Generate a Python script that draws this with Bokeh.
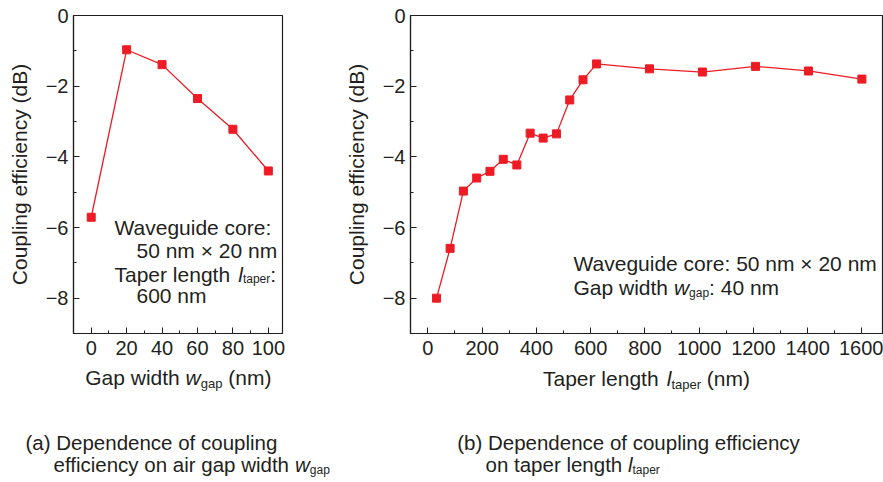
import math
from bokeh.plotting import figure
from bokeh.layouts import row, column
from bokeh.models import Label, FixedTicker, Range1d, CustomJSTickFormatter
from bokeh.embed import file_html
from bokeh.resources import INLINE

# ---------------- data ----------------
gap_width = [0, 20, 40, 60, 80, 100]
eff_vs_gap = [-5.71, -0.97, -1.39, -2.35, -3.22, -4.40]

taper_length = [32, 82, 131, 180, 229, 278, 328, 377, 425, 474, 523, 572, 622,
                817, 1012, 1208, 1403, 1600]
eff_vs_taper = [-8.00, -6.59, -4.97, -4.60, -4.41, -4.07, -4.23, -3.33, -3.47,
                -3.35, -2.39, -1.82, -1.37, -1.51, -1.60, -1.44, -1.57, -1.80]

y_ticks = [-8, -6, -4, -2, 0]
y_minor = [-9, -7, -5, -3, -1]
gap_ticks = [0, 20, 40, 60, 80, 100]
gap_minor = [10, 30, 50, 70, 90]
taper_ticks = [0, 200, 400, 600, 800, 1000, 1200, 1400, 1600]
taper_minor = [100, 300, 500, 700, 900, 1100, 1300, 1500]

# ---------------- style ----------------
INK = "#231f20"
RED = "#ed1c24"
FONT = "Liberation Sans"
TOP_H = 364          # height of the chart row
BOT_H = 482 - TOP_H  # height of the text row (axis titles + captions)
TOP = 15
BOTTOM = TOP_H - 333
Y_RANGE = (-9, 0)
CAP = 20.5           # caption font size
CAP_SUB = 12

# Arial / Liberation Sans advance widths (1/1000 em)
W = {' ': 278, '(': 333, ')': 333, ':': 278, '\u00d7': 584,
     'a': 556, 'b': 556, 'c': 500, 'd': 556, 'e': 556, 'f': 278, 'g': 556,
     'h': 556, 'i': 222, 'l': 222, 'm': 833, 'n': 556, 'o': 556, 'p': 556,
     'r': 333, 't': 278, 'u': 556, 'v': 500, 'w': 722, 'y': 500,
     'B': 667, 'C': 722, 'D': 722, 'G': 778, 'T': 611, 'W': 944}


def tw(s, size):
    return sum(W.get(c, 556) for c in s) * size / 1000.0


def make_fig(left_px, width, xr, bl, br, xt, xm):
    p = figure(width=width, height=TOP_H, x_range=Range1d(*xr), y_range=Range1d(*Y_RANGE),
               output_backend="svg", toolbar_location=None,
               min_border_left=bl, min_border_right=br,
               min_border_top=TOP, min_border_bottom=BOTTOM)
    p.grid.visible = False
    p.outline_line_color = INK
    p.outline_line_width = 1.2
    p.outline_line_alpha = 1.0
    p.background_fill_color = "white"
    p.border_fill_color = "white"
    fmt = CustomJSTickFormatter(code="return tick < 0 ? '\u2212' + Math.abs(tick) : String(tick);")
    for ax in (p.xaxis[0], p.yaxis[0]):
        ax.axis_line_color = INK
        ax.axis_line_width = 1.2
        ax.major_tick_line_color = INK
        ax.minor_tick_line_color = INK
        ax.major_tick_in = 6
        ax.major_tick_out = 0
        ax.minor_tick_in = 3
        ax.minor_tick_out = 0
        ax.major_label_text_font = FONT
        ax.major_label_text_font_size = "20px"
        ax.major_label_text_color = INK
        ax.formatter = fmt
    p.xaxis[0].ticker = FixedTicker(ticks=xt, minor_ticks=xm)
    p.yaxis[0].ticker = FixedTicker(ticks=y_ticks, minor_ticks=y_minor)
    p.xaxis[0].major_label_standoff = 7
    p.yaxis[0].major_label_standoff = 5
    ya = p.yaxis[0]
    ya.axis_label = "Coupling efficiency (dB)"
    ya.axis_label_text_font = FONT
    ya.axis_label_text_font_size = "21px"
    ya.axis_label_text_font_style = "normal"
    ya.axis_label_text_color = INK
    ya.axis_label_standoff = 12

    f_left = left_px + bl
    f_w = width - bl - br
    f_top = TOP
    f_h = TOP_H - TOP - BOTTOM

    def conv(px, py):
        x = xr[0] + (px - f_left) / f_w * (xr[1] - xr[0])
        y = Y_RANGE[1] - (py - f_top) / f_h * (Y_RANGE[1] - Y_RANGE[0])
        return x, y
    return p, conv


def place(p, conv, x_px, y_px, segs, align="left", fix=0.0):
    total = sum(tw(t, s) for t, s, st, dy in segs)
    x = x_px - total / 2 if align == "center" else x_px
    for t, s, st, dy in segs:
        stripped = t.lstrip(' ')
        off = tw(t[:len(t) - len(stripped)], s)
        dx, dyv = conv(x + off, y_px + dy + fix)
        p.add_layout(Label(x=dx, y=dyv, text=stripped.rstrip(' '), text_font=FONT,
                           text_font_size=f"{s}px", text_font_style=st,
                           text_color=INK, text_align="left",
                           text_baseline="alphabetic"))
        x += tw(t, s)


N = "normal"
I = "italic"
FIX_IN = -6.5    # baseline correction for labels inside the charts
FIX_ROW = -8.5   # baseline correction for labels in the text row

# ---------------- (a) chart ----------------
pa, ca = make_fig(0, 340, (-10, 108), 73, 58, gap_ticks, gap_minor)
pa.line(gap_width, eff_vs_gap, line_color=RED, line_width=1.3)
pa.scatter(gap_width, eff_vs_gap, marker="square", size=8, fill_color=RED, line_color=RED)
place(pa, ca, 114, 233.3, [("Waveguide core:", 21, N, 0)], fix=FIX_IN)
place(pa, ca, 136, 256.7, [("50 nm \u00d7 20 nm", 21, N, 0)], fix=FIX_IN)
place(pa, ca, 114, 280, [("Taper length ", 21, N, 0), ("l", 21, I, 0), ("taper", 12, N, 5),
                         (":", 21, N, 0)], fix=FIX_IN)
place(pa, ca, 136, 301.7, [("600 nm", 21, N, 0)], fix=FIX_IN)

# ---------------- (b) chart ----------------
pb, cb = make_fig(340, 543, (-64, 1676), 70, 1, taper_ticks, taper_minor)
pb.line(taper_length, eff_vs_taper, line_color=RED, line_width=1.3)
pb.scatter(taper_length, eff_vs_taper, marker="square", size=8, fill_color=RED, line_color=RED)
place(pb, cb, 573, 269.5, [("Waveguide core: 50 nm \u00d7 20 nm", 21, N, 0)], fix=FIX_IN)
place(pb, cb, 573, 293, [("Gap width ", 21, N, 0), ("w", 21, I, 0), ("gap", 12, N, 6),
                         (": 40 nm", 21, N, 0)], fix=FIX_IN)

# ---------------- text row: axis titles with subscripts and captions ----------------
pt = figure(width=883, height=BOT_H, x_range=Range1d(0, 883), y_range=Range1d(482, TOP_H),
            output_backend="svg", toolbar_location=None,
            x_axis_location=None, y_axis_location=None,
            min_border_left=0, min_border_right=0, min_border_top=0, min_border_bottom=0)
pt.grid.visible = False
pt.outline_line_color = None
pt.background_fill_color = "white"
pt.border_fill_color = "white"


def ident(px, py):
    return px, py


place(pt, ident, 177.8, 385, [("Gap width ", 21, N, 0), ("w", 21, I, 0), ("gap", 13, N, 6),
                              (" (nm)", 21, N, 0)], align="center", fix=FIX_ROW)
place(pt, ident, 646, 386, [("Taper length ", 21, N, 0), ("l", 21, I, 0), ("taper", 13, N, 6),
                            (" (nm)", 21, N, 0)], align="center", fix=FIX_ROW)
place(pt, ident, 25, 450, [("(a) Dependence of coupling", CAP, N, 0)], fix=FIX_ROW)
place(pt, ident, 53, 472.5, [("efficiency on air gap width ", CAP, N, 0), ("w", CAP, I, 0),
                             ("gap", CAP_SUB, N, 5)], fix=FIX_ROW)
place(pt, ident, 456.7, 450, [("(b) Dependence of coupling efficiency", CAP, N, 0)], fix=FIX_ROW)
place(pt, ident, 485, 472.5, [("on taper length ", CAP, N, 0), ("l", CAP, I, 0),
                              ("taper", CAP_SUB, N, 5)], fix=FIX_ROW)

layout = column(row(pa, pb, spacing=0), pt, spacing=0)
open("out.html", "w").write(file_html(layout, INLINE))
